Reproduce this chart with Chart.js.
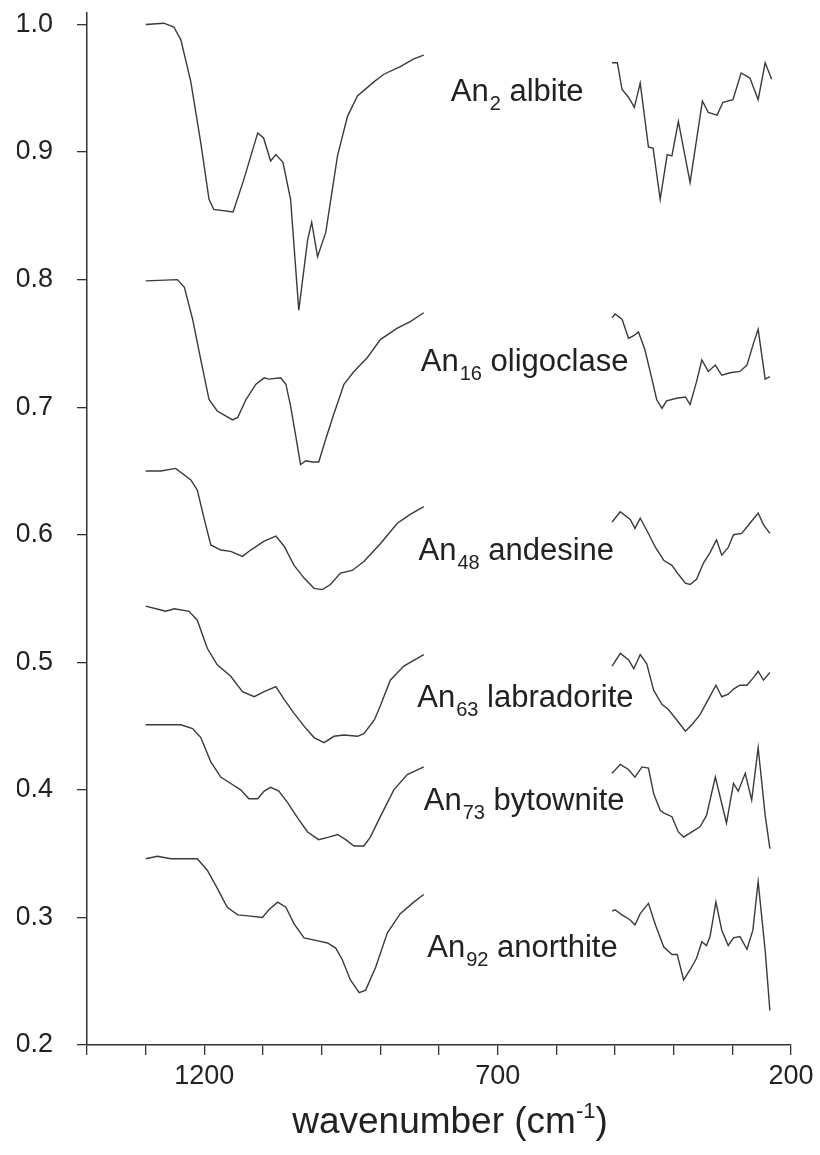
<!DOCTYPE html>
<html>
<head>
<meta charset="utf-8">
<script src="https://cdn.jsdelivr.net/npm/chart.js@4.4.1/dist/chart.umd.min.js"></script>
<style>
  html, body { margin: 0; padding: 0; background: #fff; }
</style>
</head>
<body>
<canvas id="spectra" width="820" height="1155"></canvas>
<script>
// [wavenumber cm-1, absorbance].
// each feldspar has a mid-IR part (1300-826) and a far-IR part (505-236)
const albiteHigh = [[1300,1.000],[1269,1.001],[1252,0.998],[1240,0.988],[1223,0.955],[1206,0.907],[1192,0.863],[1184,0.855],[1151,0.853],[1133,0.878],[1109,0.915],[1099,0.911],[1087,0.893],[1078,0.898],[1066,0.892],[1053,0.863],[1039,0.776],[1024,0.831],[1017,0.845],[1007,0.818],[993,0.837],[973,0.897],[956,0.928],[939,0.944],[911,0.955],[894,0.961],[866,0.967],[843,0.973],[826,0.976]];
const albiteLow = [[505,0.970],[496,0.970],[488,0.949],[477,0.943],[467,0.935],[457,0.954],[443,0.904],[435,0.903],[423,0.863],[411,0.898],[403,0.897],[392,0.924],[372,0.876],[351,0.940],[341,0.931],[326,0.929],[316,0.939],[299,0.941],[285,0.962],[270,0.958],[256,0.941],[244,0.970],[233,0.957]];

const oligoclaseHigh = [[1300,0.799],[1246,0.800],[1234,0.794],[1220,0.769],[1206,0.737],[1192,0.706],[1178,0.697],[1163,0.693],[1152,0.690],[1143,0.692],[1129,0.706],[1112,0.718],[1098,0.723],[1090,0.722],[1070,0.723],[1061,0.718],[1053,0.701],[1044,0.677],[1036,0.655],[1027,0.658],[1016,0.657],[1005,0.657],[993,0.675],[979,0.695],[962,0.718],[945,0.728],[922,0.739],[900,0.753],[871,0.762],[849,0.767],[826,0.774]];
const oligoclaseLow = [[505,0.770],[500,0.773],[488,0.769],[477,0.754],[468,0.756],[460,0.759],[449,0.745],[437,0.722],[429,0.706],[420,0.699],[412,0.705],[395,0.707],[380,0.708],[372,0.702],[361,0.720],[352,0.737],[341,0.728],[329,0.733],[318,0.725],[304,0.727],[287,0.728],[275,0.733],[264,0.750],[256,0.761],[244,0.722],[236,0.724]];

const andesineHigh = [[1300,0.650],[1274,0.650],[1249,0.652],[1223,0.643],[1212,0.635],[1200,0.612],[1189,0.592],[1172,0.588],[1155,0.587],[1135,0.583],[1121,0.588],[1098,0.595],[1078,0.599],[1064,0.591],[1047,0.576],[1030,0.566],[1013,0.558],[999,0.557],[985,0.561],[968,0.570],[948,0.572],[928,0.579],[900,0.593],[871,0.609],[849,0.616],[826,0.622]];
const andesineLow = [[505,0.610],[491,0.618],[474,0.612],[466,0.605],[457,0.613],[443,0.601],[431,0.590],[417,0.580],[403,0.576],[392,0.569],[380,0.562],[372,0.561],[361,0.565],[349,0.578],[338,0.586],[327,0.596],[318,0.584],[307,0.590],[298,0.600],[284,0.601],[270,0.609],[256,0.617],[247,0.608],[236,0.601]];

const labradoriteHigh = [[1300,0.544],[1274,0.541],[1266,0.540],[1251,0.542],[1226,0.540],[1212,0.533],[1195,0.511],[1178,0.498],[1155,0.489],[1135,0.477],[1115,0.473],[1098,0.477],[1078,0.481],[1064,0.471],[1047,0.460],[1030,0.450],[1013,0.441],[996,0.437],[979,0.442],[962,0.443],[939,0.442],[928,0.444],[910,0.455],[900,0.466],[883,0.486],[860,0.497],[826,0.506]];
const labradoriteLow = [[505,0.497],[491,0.507],[477,0.502],[468,0.495],[457,0.506],[446,0.499],[434,0.478],[420,0.467],[409,0.463],[395,0.455],[380,0.446],[369,0.451],[355,0.459],[341,0.471],[328,0.482],[318,0.473],[307,0.475],[298,0.479],[287,0.482],[275,0.482],[264,0.488],[256,0.493],[247,0.486],[236,0.492]];

const bytowniteHigh = [[1300,0.451],[1268,0.451],[1240,0.451],[1220,0.448],[1206,0.441],[1189,0.422],[1172,0.410],[1155,0.405],[1138,0.400],[1124,0.393],[1109,0.393],[1098,0.399],[1087,0.402],[1073,0.399],[1058,0.390],[1041,0.378],[1024,0.367],[1005,0.361],[988,0.363],[973,0.365],[959,0.361],[945,0.356],[928,0.356],[917,0.363],[900,0.379],[877,0.400],[854,0.412],[826,0.418]];
const bytowniteLow = [[505,0.413],[491,0.420],[477,0.416],[466,0.410],[454,0.418],[443,0.417],[434,0.397],[423,0.384],[417,0.382],[403,0.379],[392,0.367],[383,0.363],[369,0.367],[355,0.371],[344,0.380],[329,0.410],[310,0.374],[298,0.405],[290,0.399],[278,0.413],[267,0.392],[256,0.433],[244,0.380],[236,0.354]];

const anorthiteHigh = [[1300,0.346],[1280,0.348],[1257,0.346],[1212,0.346],[1195,0.337],[1178,0.323],[1161,0.308],[1143,0.302],[1121,0.301],[1101,0.300],[1090,0.306],[1075,0.312],[1061,0.308],[1047,0.295],[1030,0.284],[1010,0.282],[990,0.280],[976,0.276],[965,0.267],[951,0.251],[936,0.241],[925,0.243],[908,0.261],[888,0.288],[866,0.303],[843,0.312],[826,0.318]];
const anorthiteLow = [[505,0.305],[500,0.306],[488,0.302],[474,0.298],[466,0.294],[457,0.303],[443,0.311],[431,0.294],[417,0.277],[403,0.271],[394,0.271],[383,0.251],[372,0.259],[361,0.268],[352,0.281],[344,0.278],[338,0.285],[328,0.312],[318,0.290],[307,0.278],[298,0.284],[287,0.285],[275,0.275],[265,0.290],[256,0.328],[244,0.274],[236,0.227]];

const minerals = ['albite', 'oligoclase', 'andesine', 'labradorite', 'bytownite', 'anorthite'];
const anContent = [2, 16, 48, 63, 73, 92];
const xTicks = [200, 300, 400, 500, 600, 700, 800, 900, 1000, 1100, 1200, 1300, 1400];
const xLabelled = [1200, 700, 200];
const yTicks = [0.2, 0.3, 0.4, 0.5, 0.6, 0.7, 0.8, 0.9, 1.0];

// where each name sits: [wavenumber, absorbance] of the text baseline start
const labelAt = [[780, 0.940], [831, 0.728], [835, 0.580], [837, 0.465], [826, 0.384], [820, 0.269]];

const spectra = [
  [albiteHigh, albiteLow],
  [oligoclaseHigh, oligoclaseLow],
  [andesineHigh, andesineLow],
  [labradoriteHigh, labradoriteLow],
  [bytowniteHigh, bytowniteLow],
  [anorthiteHigh, anorthiteLow]
];

const FONT = '"Liberation Sans", Arial, Helvetica, sans-serif';
const INK = '#222';

// the two measured ranges are joined with a null point so the line breaks
function toPoints(high, low) {
  return high.map(([x, y]) => ({ x, y }))
    .concat([{ x: 660, y: null }])
    .concat(low.map(([x, y]) => ({ x, y })));
}

const datasets = spectra.map(([high, low], i) => ({
  label: 'An' + anContent[i] + ' ' + minerals[i],
  data: toPoints(high, low),
  borderColor: '#3a3a3a',
  borderWidth: 1.4,
  pointRadius: 0,
  tension: 0,
  spanGaps: false,
  fill: false
}));

// mineral names with subscripted An content, plus the x-axis title
const textPlugin = {
  id: 'figureText',
  afterDatasetsDraw(chart) {
    const { ctx } = chart;
    const xs = chart.scales.x;
    const ys = chart.scales.y;
    ctx.save();
    ctx.fillStyle = INK;
    ctx.textBaseline = 'alphabetic';
    ctx.textAlign = 'left';
    minerals.forEach((name, i) => {
      let px = xs.getPixelForValue(labelAt[i][0]);
      const py = ys.getPixelForValue(labelAt[i][1]);
      ctx.font = '31px ' + FONT;
      ctx.fillText('An', px, py);
      px += ctx.measureText('An').width + 1;
      ctx.font = '20px ' + FONT;
      const sub = String(anContent[i]);
      ctx.fillText(sub, px, py + 9);
      px += ctx.measureText(sub).width;
      ctx.font = '31px ' + FONT;
      ctx.fillText(' ' + name, px, py);
    });

    // wavenumber (cm-1)
    const main = 'wavenumber (cm';
    const sup = '-1';
    ctx.font = '37px ' + FONT;
    const wMain = ctx.measureText(main).width;
    const wClose = ctx.measureText(')').width;
    ctx.font = '22px ' + FONT;
    const wSup = ctx.measureText(sup).width;
    let tx = 450 - (wMain + wSup + wClose) / 2;
    const ty = chart.height - 22;
    ctx.font = '37px ' + FONT;
    ctx.fillText(main, tx, ty);
    tx += wMain;
    ctx.font = '22px ' + FONT;
    ctx.fillText(sup, tx, ty - 15);
    tx += wSup;
    ctx.font = '37px ' + FONT;
    ctx.fillText(')', tx, ty);
    ctx.restore();
  }
};

new Chart(document.getElementById('spectra'), {
  type: 'line',
  data: { datasets },
  options: {
    responsive: false,
    animation: false,
    layout: { padding: { left: 17, right: 29, top: 13, bottom: 61 } },
    plugins: {
      legend: { display: false },
      tooltip: { enabled: false }
    },
    scales: {
      x: {
        type: 'linear',
        min: 200,
        max: 1400,
        reverse: true,
        afterBuildTicks: (scale) => { scale.ticks = xTicks.map(v => ({ value: v })); },
        afterFit: (scale) => {
          scale.height = 49;
          scale.paddingLeft = 0;
          scale.paddingRight = 0;
        },
        ticks: {
          autoSkip: false,
          maxRotation: 0,
          padding: 8,
          color: INK,
          font: { family: FONT, size: 27, lineHeight: 1 },
          callback: (v) => xLabelled.includes(v) ? String(v) : ''
        },
        grid: { drawOnChartArea: false, drawTicks: true, tickLength: 10, color: '#333', lineWidth: 1.3 },
        border: { display: true, color: '#333', width: 1.5 }
      },
      y: {
        type: 'linear',
        min: 0.2,
        max: 1.009,
        afterBuildTicks: (scale) => { scale.ticks = yTicks.map(v => ({ value: v })); },
        afterFit: (scale) => {
          scale.width = 70;
          scale.paddingTop = 0;
          scale.paddingBottom = 0;
        },
        ticks: {
          padding: 24,
          color: INK,
          font: { family: FONT, size: 27, lineHeight: 1 },
          callback: (v) => v.toFixed(1)
        },
        grid: { drawOnChartArea: false, drawTicks: true, tickLength: 10, color: '#333', lineWidth: 1.3 },
        border: { display: true, color: '#333', width: 1.5 }
      }
    }
  },
  plugins: [textPlugin]
});
</script>
</body>
</html>
